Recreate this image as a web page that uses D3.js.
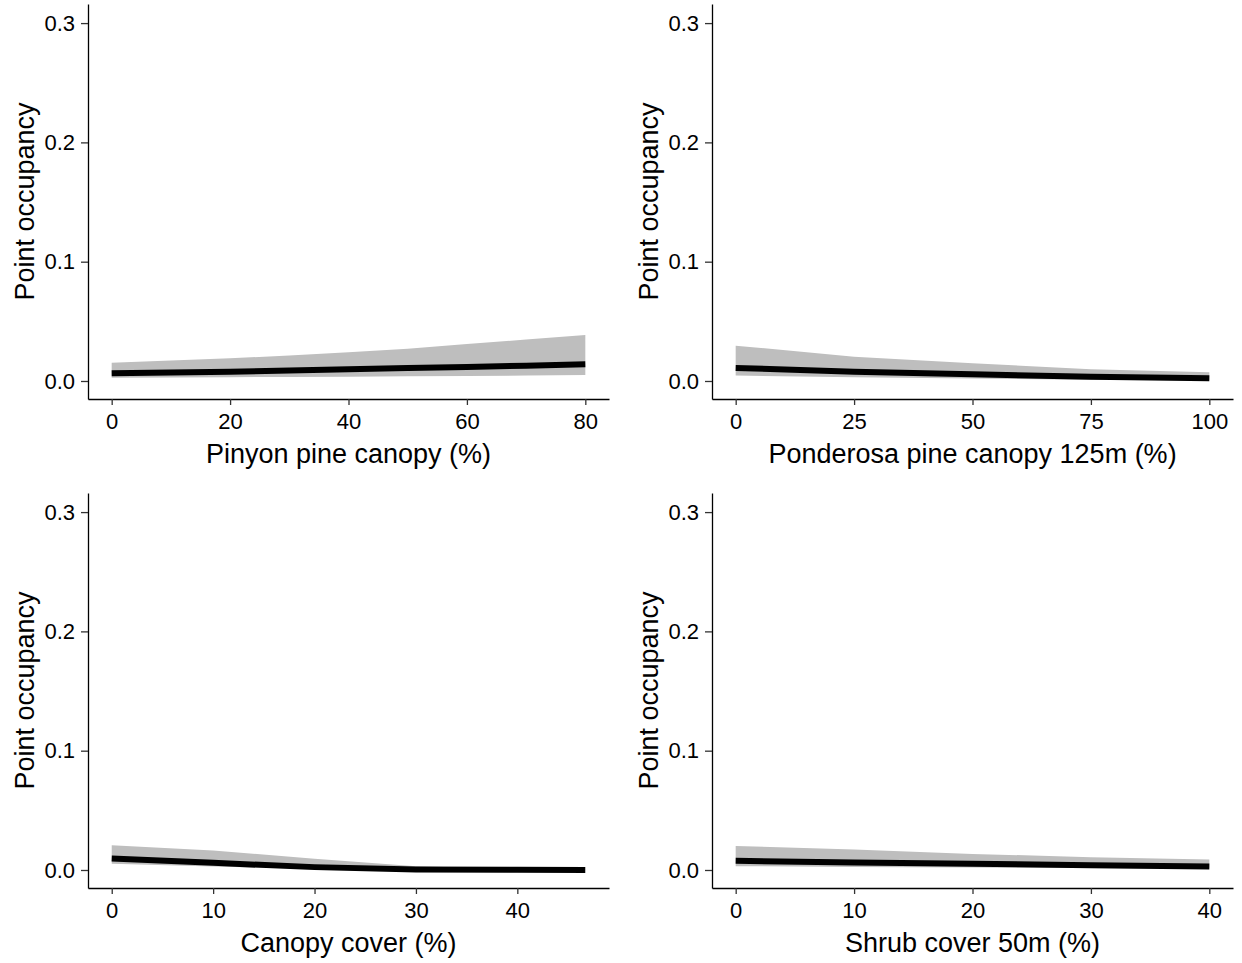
<!DOCTYPE html>
<html>
<head>
<meta charset="utf-8">
<script src="https://cdn.jsdelivr.net/npm/d3@7"></script>
<style>
  body { margin: 0; background: #fff; }
  svg { display: block; font-family: "Liberation Sans", Arial, sans-serif; }
</style>
</head>
<body>
<svg id="chart"></svg>
<script>
// values (fitted occupancy + 95% band)
const pinyonX = [0, 10, 20, 30, 40, 50, 60, 70, 80];
const pinyonFit = [0.0064, 0.0071, 0.0078, 0.0088, 0.0098, 0.0108, 0.0117, 0.0128, 0.014];
const pinyonLo = [0.0028, 0.003, 0.0032, 0.0034, 0.0036, 0.0039, 0.0042, 0.0046, 0.005];
const pinyonHi = [0.0153, 0.0172, 0.019, 0.0213, 0.024, 0.027, 0.031, 0.0347, 0.0386];

const ponderosaX = [0, 25, 50, 75, 100];
const ponderosaFit = [0.0109, 0.0078, 0.0056, 0.0036, 0.0022];
const ponderosaLo = [0.0045, 0.0031, 0.002, 0.0011, 0.0006];
const ponderosaHi = [0.0296, 0.0204, 0.0148, 0.0098, 0.0073];

const canopyX = [0, 10, 20, 30, 40, 46.7];
const canopyFit = [0.0096, 0.006, 0.0024, 0.0004, 0.0001, 0.0];
const canopyLo = [0.0052, 0.003, 0.001, 0.0001, 0.0, 0.0];
const canopyHi = [0.0207, 0.0163, 0.0094, 0.0032, 0.0008, 0.0003];

const shrubX = [0, 10, 20, 30, 40];
const shrubFit = [0.0077, 0.0063, 0.0052, 0.004, 0.003];
const shrubLo = [0.0032, 0.0025, 0.002, 0.0017, 0.0012];
const shrubHi = [0.0202, 0.0171, 0.0135, 0.0107, 0.0088];

const yTicks = [0, 0.1, 0.2, 0.3];
const yLabel = 'Point occupancy';

const width = 1242;
const height = 963;

const svg = d3.select('#chart')
  .attr('width', width)
  .attr('height', height);

const panels = [
  { title: 'Pinyon pine canopy (%)', x: pinyonX, fit: pinyonFit, lo: pinyonLo, hi: pinyonHi,
    xDomain: [-4, 84], xTicks: [0, 20, 40, 60, 80], left: 88, top: 4 },
  { title: 'Ponderosa pine canopy 125m (%)', x: ponderosaX, fit: ponderosaFit, lo: ponderosaLo, hi: ponderosaHi,
    xDomain: [-5, 105], xTicks: [0, 25, 50, 75, 100], left: 712, top: 4 },
  { title: 'Canopy cover (%)', x: canopyX, fit: canopyFit, lo: canopyLo, hi: canopyHi,
    xDomain: [-2.34, 49.04], xTicks: [0, 10, 20, 30, 40], left: 88, top: 493 },
  { title: 'Shrub cover 50m (%)', x: shrubX, fit: shrubFit, lo: shrubLo, hi: shrubHi,
    xDomain: [-2, 42], xTicks: [0, 10, 20, 30, 40], left: 712, top: 493 },
];

const panelW = 521;
const panelH = 395;

panels.forEach((p) => {
  const g = svg.append('g').attr('transform', `translate(${p.left},${p.top})`);

  const x = d3.scaleLinear().domain(p.xDomain).range([0, panelW]);
  const y = d3.scaleLinear().domain([-0.0151, 0.316]).range([panelH, 0]);

  const rows = p.x.map((v, i) => ({ x: v, fit: p.fit[i], lo: p.lo[i], hi: p.hi[i] }));

  g.append('path')
    .datum(rows)
    .attr('fill', '#bebebe')
    .attr('d', d3.area().x((d) => x(d.x)).y0((d) => y(d.lo)).y1((d) => y(d.hi)));

  g.append('path')
    .datum(rows)
    .attr('fill', 'none')
    .attr('stroke', '#000')
    .attr('stroke-width', 6)
    .attr('d', d3.line().x((d) => x(d.x)).y((d) => y(d.fit)));

  // axes (theme_classic look)
  const xAxis = g.append('g')
    .attr('transform', `translate(0,${panelH})`)
    .call(d3.axisBottom(x).tickValues(p.xTicks).tickSize(6).tickPadding(8).tickSizeOuter(0));
  const yAxis = g.append('g')
    .call(d3.axisLeft(y).tickValues(yTicks).tickFormat(d3.format('.1f')).tickSize(7).tickPadding(6).tickSizeOuter(0));

  [xAxis, yAxis].forEach((a) => {
    a.select('.domain').attr('stroke', '#000').attr('stroke-width', 1.3);
    a.selectAll('.tick line').attr('stroke', '#333').attr('stroke-width', 1.3);
    a.selectAll('.tick text')
      .attr('fill', '#000')
      .style('font-size', '22px')
      .style('font-family', '"Liberation Sans", Arial, sans-serif');
  });

  g.append('text')
    .attr('x', panelW / 2)
    .attr('y', panelH + 64)
    .attr('text-anchor', 'middle')
    .style('font-size', '27px')
    .text(p.title);

  g.append('text')
    .attr('transform', `translate(-54,${panelH / 2}) rotate(-90)`)
    .attr('text-anchor', 'middle')
    .style('font-size', '27px')
    .text(yLabel);
});
</script>
</body>
</html>
